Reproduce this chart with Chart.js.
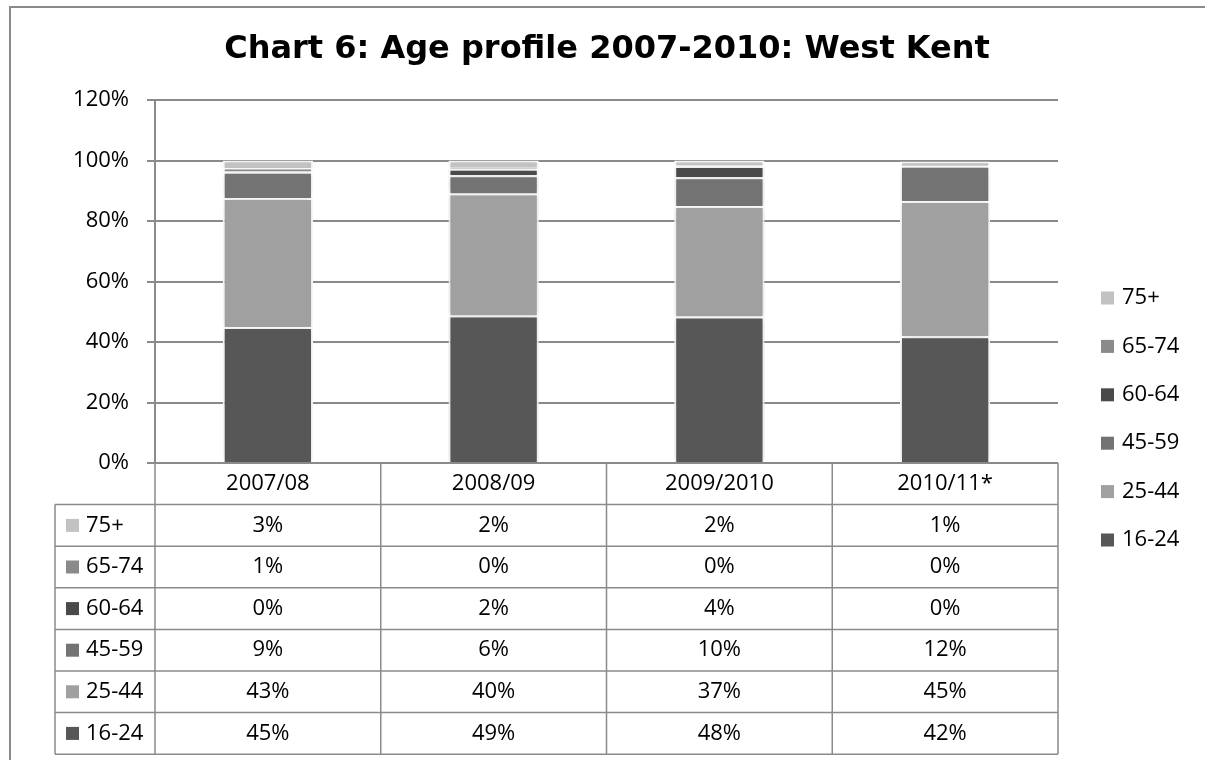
<!DOCTYPE html>
<html>
<head>
<meta charset="utf-8">
<title>Chart 6: Age profile 2007-2010: West Kent</title>
<script src="https://cdn.jsdelivr.net/npm/chart.js@4/dist/chart.umd.min.js"></script>
<style>
    body { margin: 0; background: #fff; }
    #wrap { width: 1205px; height: 760px; position: relative; }
</style>
</head>
<body>
<div id="wrap"><canvas id="chart"></canvas></div>
<script>
// Données (en %)
const titre = "Chart 6: Age profile 2007-2010: West Kent";
const categories = ["2007/08", "2008/09", "2009/2010", "2010/11*"];
const ageGroups = ["16-24", "25-44", "45-59", "60-64", "65-74", "75+"];
const share16_24 = [45.0, 48.8, 48.4, 41.9];
const share25_44 = [42.6, 40.3, 36.6, 44.7];
const share45_59 = [8.7, 6.0, 9.5, 11.7];
const share60_64 = [0.2, 2.2, 3.7, 0.0];
const share65_74 = [1.0, 0.3, 0.2, 0.2];
const share75plus = [2.5, 2.4, 1.6, 1.2];
const yTicks = [0, 20, 40, 60, 80, 100, 120];

const series = [share16_24, share25_44, share45_59, share60_64, share65_74, share75plus];
const couleurs = ["#575757", "#a0a0a0", "#737373", "#4a4a4a", "#8a8a8a", "#c2c2c2"];

const FONT = '"Open Sans", sans-serif';
const FSIZE = 22;
const LINE = "#8a8a8a";

// Plugin : cadre, titre, tableau de données et légende façon Excel
const excelPlugin = {
    id: "excelTable",
    beforeDraw(chart) {
        const ctx = chart.ctx;
        ctx.save();
        ctx.strokeStyle = LINE;
        ctx.lineWidth = 2;
        ctx.strokeRect(10, 7, 1400, 1000);
        ctx.restore();
    },
    beforeDatasetsDraw(chart) {
        const ctx = chart.ctx;
        ctx.save();
        ctx.shadowColor = "rgba(0,0,0,0.18)";
        ctx.shadowBlur = 5;
    },
    afterDatasetsDraw(chart) {
        chart.ctx.restore();
    },
    afterDraw(chart) {
        const ctx = chart.ctx;
        const { left, right, bottom } = chart.chartArea;
        const colW = (right - left) / categories.length;
        const rowH = 41.6;
        const labelLeft = 55;
        const nRows = ageGroups.length + 1;

        ctx.save();
        // titre
        ctx.fillStyle = "#000";
        ctx.font = 'bold 32px "DejaVu Sans"';
        ctx.textAlign = "center";
        ctx.textBaseline = "alphabetic";
        ctx.fillText(titre, 607, 58);

        // lignes du tableau
        ctx.strokeStyle = LINE;
        ctx.lineWidth = 1.5;
        ctx.beginPath();
        for (let i = 0; i <= categories.length; i++) {
            const x = left + i * colW;
            ctx.moveTo(x, bottom);
            ctx.lineTo(x, bottom + nRows * rowH);
        }
        for (let k = 1; k <= nRows; k++) {
            ctx.moveTo(labelLeft, bottom + k * rowH);
            ctx.lineTo(right, bottom + k * rowH);
        }
        ctx.moveTo(labelLeft, bottom + rowH);
        ctx.lineTo(labelLeft, bottom + nRows * rowH);
        ctx.stroke();

        // en-têtes
        ctx.font = FSIZE + "px " + FONT;
        ctx.textBaseline = "middle";
        ctx.textAlign = "center";
        ctx.fillStyle = "#000";
        categories.forEach((c, i) => {
            ctx.fillText(c, left + (i + 0.5) * colW, bottom + rowH / 2);
        });

        // lignes de valeurs (ordre inverse : 75+ en haut)
        for (let r = 0; r < ageGroups.length; r++) {
            const d = ageGroups.length - 1 - r;
            const yc = bottom + (r + 1.5) * rowH;
            ctx.fillStyle = couleurs[d];
            ctx.fillRect(66, yc - 6.5, 13, 13);
            ctx.fillStyle = "#000";
            ctx.textAlign = "left";
            ctx.fillText(ageGroups[d], 86, yc);
            ctx.textAlign = "center";
            series[d].forEach((v, i) => {
                ctx.fillText(Math.round(v) + "%", left + (i + 0.5) * colW, yc);
            });
        }

        // légende à droite
        ctx.textAlign = "left";
        for (let r = 0; r < ageGroups.length; r++) {
            const d = ageGroups.length - 1 - r;
            const yc = 298 + r * 48.4;
            ctx.fillStyle = couleurs[d];
            ctx.fillRect(1101, yc - 6.5, 13, 13);
            ctx.fillStyle = "#000";
            ctx.fillText(ageGroups[d], 1122, yc);
        }
        ctx.restore();
    }
};

const datasets = series.map((data, i) => ({
    label: ageGroups[i],
    data: data,
    backgroundColor: couleurs[i],
    borderColor: "#ffffff",
    borderWidth: 2,
    barPercentage: 0.4,
    categoryPercentage: 1.0,
}));

function dessiner() {
    new Chart(document.getElementById("chart"), {
        type: "bar",
        data: { labels: categories, datasets: datasets },
        options: {
            responsive: true,
            maintainAspectRatio: false,
            animation: false,
            layout: { padding: { left: 0, top: 100, right: 147, bottom: 297 } },
            plugins: {
                legend: { display: false },
                title: { display: false },
                tooltip: { enabled: false },
            },
            scales: {
                x: {
                    stacked: true,
                    display: false,
                    offset: true,
                },
                y: {
                    stacked: true,
                    min: 0,
                    max: 120,
                    afterFit: (scale) => { scale.width = 155; },
                    afterBuildTicks: (scale) => { scale.ticks = yTicks.map(v => ({ value: v })); },
                    border: { display: true, color: LINE, width: 2 },
                    grid: { color: LINE, lineWidth: 2, tickLength: 8 },
                    ticks: {
                        padding: 18,
                        color: "#000",
                        font: { family: FONT, size: FSIZE },
                        callback: (v) => v + "%",
                    },
                },
            },
        },
        plugins: [excelPlugin],
    });
}

// Attendre les polices avant de dessiner sur le canvas
Promise.all([
    document.fonts.load(FSIZE + 'px "Open Sans"'),
    document.fonts.load('bold 32px "DejaVu Sans"'),
]).then(dessiner, dessiner);
</script>
</body>
</html>
